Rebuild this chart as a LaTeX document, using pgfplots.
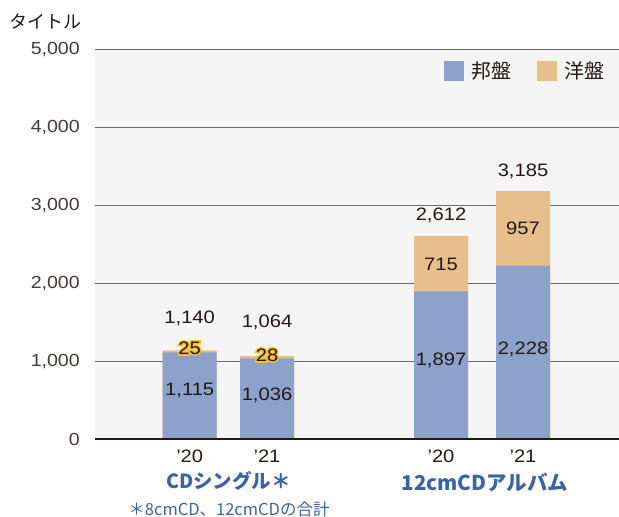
\documentclass[border=0pt]{standalone}
\usepackage{pgfplots}
\pgfplotsset{compat=1.18}
\usepackage{fontspec}
\setmainfont{Liberation Sans}[FakeStretch=1.12]
\newfontfamily\haloF{Liberation Sans}[FakeStretch=1.12, FakeBold=18]
\newfontfamily\jp{Noto Sans CJK JP}
\definecolor{jblue}{HTML}{8CA2CB}
\definecolor{jorange}{HTML}{E6BF8C}
\definecolor{bg}{HTML}{F5F5F5}
\definecolor{gridc}{HTML}{6A6A6A}
\definecolor{dark}{HTML}{231815}
\definecolor{grp}{HTML}{3B64A6}
\definecolor{haloc}{HTML}{F2C12E}
\newcommand\halo[1]{%
 \makebox[0pt]{\haloF\textcolor{haloc}{#1}}%
 \makebox[0pt]{\textcolor{dark}{#1}}}
\newcommand\tf{\fontsize{17.5bp}{19bp}\selectfont}
\newcommand\xf{\fontsize{18bp}{20bp}\selectfont}
\tikzset{vl/.style={inner sep=0pt, text=dark, font=\fontsize{18bp}{20bp}\selectfont}}
\begin{document}
\begin{tikzpicture}
\useasboundingbox (0,0) rectangle (619bp,517bp);
\node[anchor=west, inner sep=0pt, text=dark] at (9bp,495bp) {\jp\fontsize{18bp}{20bp}\selectfont タイトル};
\begin{axis}[
  at={(95bp,78bp)}, anchor=south west,
  scale only axis, width=524bp, height=389bp,
  xmin=95, xmax=619, ymin=0, ymax=5000,
  ybar, bar width=54, bar shift=0pt,
  axis background/.style={fill=bg},
  axis line style={draw=none},
  major tick length=0pt,
  ytick={0,1000,2000,3000,4000,5000},
  yticklabels={{\tf 0},{\tf 1,000},{\tf 2,000},{\tf 3,000},{\tf 4,000},{\tf 5,000}},
  ymajorgrids, grid style={gridc, line width=1bp},
  yticklabel style={anchor=east, inner sep=0pt, xshift=-15bp, text=dark!85},
  xtick={189.7,267,441,523},
  xticklabels={{\xf ’20},{\xf ’21},{\xf ’20},{\xf ’21}},
  xticklabel style={anchor=center, inner sep=0pt, yshift=-17bp, text=dark},
  legend columns=2, reverse legend,
  legend style={at={(1,1)}, anchor=north east, xshift=-14bp, yshift=-11bp,
    draw=none, fill=none, inner sep=0pt,
    font=\jp\fontsize{20bp}{22bp}\selectfont, text=dark,
    nodes={inner sep=0pt},
    /tikz/every odd column/.style={column sep=8bp},
    /tikz/every even column/.style={column sep=25bp}},
  legend image code/.code={\fill[#1,draw=none] (0bp,-10bp) rectangle (20bp,10bp);},
  clip=false,
]
% totals (orange part shows above the domestic part)
\addplot[fill=jorange, draw=none] coordinates {(189.7,1140) (267,1064) (441,2612) (523,3185)};
\addlegendentry{洋盤}
\addplot[fill=jblue, draw=none] coordinates {(189.7,1115) (267,1036) (441,1897) (523,2228)};
\addlegendentry{邦盤}
\draw[dark, line width=2bp] (axis cs:95,0) -- (axis cs:619,0);
\node[vl] at (axis cs:189.7,630) {1,115};
\node[vl] at (axis cs:267,556) {1,036};
\node[vl] at (axis cs:441,1015) {1,897};
\node[vl] at (axis cs:523,1157) {2,228};
\node[vl] at (axis cs:441,2245) {715};
\node[vl] at (axis cs:523,2708) {957};
\node[vl] at (axis cs:189.7,1555) {1,140};
\node[vl] at (axis cs:267,1504) {1,064};
\node[vl] at (axis cs:441,2879) {2,612};
\node[vl] at (axis cs:523,3436) {3,185};
\node[vl] at (axis cs:189.7,1170) {\halo{25}};
\node[vl] at (axis cs:267,1080) {\halo{28}};
\node[inner sep=0pt, text=grp] at (axis cs:228.5,0) [yshift=-42bp] {\jp\bfseries\fontsize{19.5bp}{21bp}\selectfont CDシングル＊};
\node[inner sep=0pt, text=grp] at (axis cs:485,0) [yshift=-43bp] {\jp\bfseries\fontsize{20.5bp}{22bp}\selectfont 12cmCDアルバム};
\node[inner sep=0pt, text=grp] at (axis cs:229,0) [yshift=-70bp] {\jp\fontsize{16.5bp}{18bp}\selectfont ＊8cmCD、12cmCDの合計};
\end{axis}
\end{tikzpicture}
\end{document}
